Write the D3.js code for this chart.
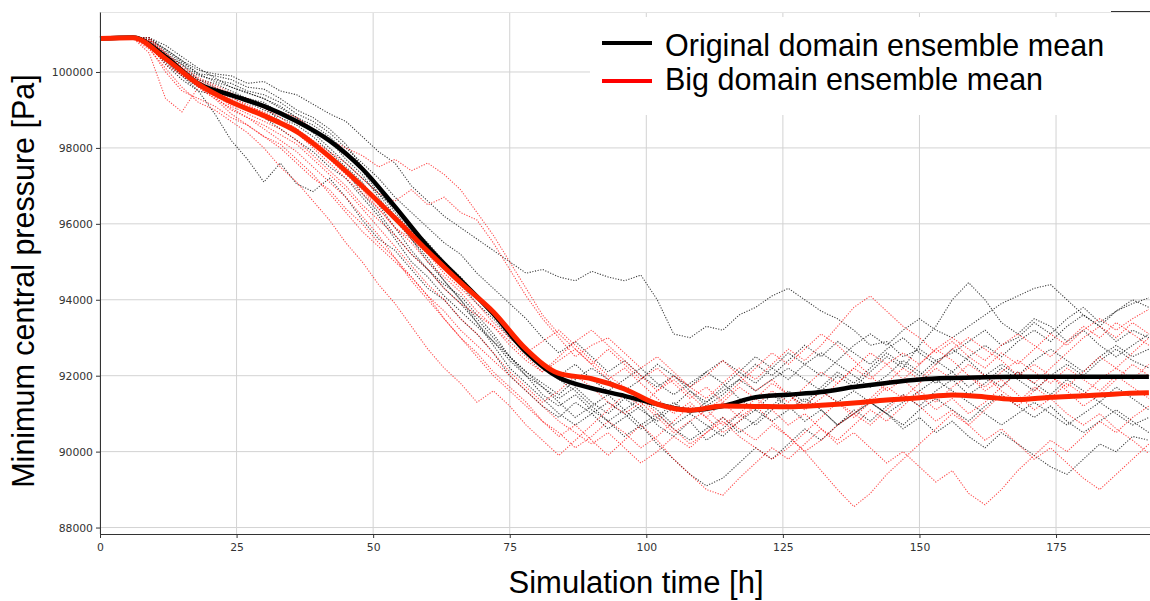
<!DOCTYPE html>
<html>
<head>
<meta charset="utf-8">
<script src="https://cdn.jsdelivr.net/npm/d3@7"></script>
<style>
body { margin: 0; background: #fff; }
</style>
</head>
<body>
<div id="vis"></div>
<script>
// time steps of the ensemble members [h]
const hours = [0,3,6,9,12,15,18,21,24,27,30,33,36,
  39,42,45,48,51,54,57,60,63,66,69,72,75,
  78,81,84,87,90,93,96,99,102,105,108,111,114,
  117,120,123,126,129,132,135,138,141,144,147,150,153,
  156,159,162,165,168,171,174,177,180,183,186,189,192]

// time steps of the ensemble means [h]
const meanHours = [0,6,12,18,24,30,36,42,48,54,60,66,72,78,84,90,96,102,108,114,120,126,132,138,144,150,156,162,168,174,180,186,192]

const originalMean = [100880,100910,100400,99700,99390,99100,98700,98190,97450,96450,95400,94520,93630,92620,91950,91670,91470,91250,91090,91200,91430,91500,91570,91700,91810,91900,91940,91960,91970,91970,91970,91970,91970]
const bigMean = [100880,100900,100350,99680,99210,98850,98430,97770,96990,96150,95280,94450,93680,92700,92060,91920,91650,91250,91090,91200,91190,91180,91220,91280,91360,91420,91490,91440,91370,91430,91470,91520,91550]

// original domain members [Pa]
const originalMembers = [
  [100880,100920,100900,100850,100600,100300,100050,99950,99900,99700,99750,99500,99400,
   99150,98900,98700,98300,97900,97600,97000,96600,96200,95900,95600,95300,95000,
   94700,94800,94600,94500,94750,94600,94500,94650,94000,93100,93000,93300,93200,
   93600,93800,94100,94300,94000,93700,93500,93200,92800,92900,92500,92700,92400,
   92600,92900,93200,92800,93000,93400,93100,93500,93800,93400,93700,93900,94050],
  [100880,100920,100900,100700,100200,99800,99500,98900,98200,97700,97100,97600,97050,
   96850,97200,96700,96100,95600,95300,94800,94300,94000,93500,93100,92600,92000,
   91600,91200,90900,91300,91000,90600,90900,91200,90700,90400,90800,90300,90600,
   91000,90700,91100,91500,91200,91600,92000,91700,92100,92500,92200,92800,93300,
   94000,94450,94000,93400,93100,93500,93300,92900,93200,92800,92500,92800,93100],
  [100880,100920,100900,100900,100700,100400,100100,99850,99600,99450,99300,99100,98800,
   98500,98200,97700,97300,96700,96100,95600,95100,94500,94000,93500,93000,92500,
   92100,91700,91400,91700,91300,91000,91400,91100,90800,91200,91600,91300,91700,
   92100,91800,92200,92600,92300,92000,92400,92800,93100,92800,93200,93500,93200,
   93000,93300,93600,93900,94100,94300,94400,94000,93600,93300,92900,93200,93000],
  [100880,100920,100900,100800,100500,100200,99800,99700,99500,99300,99100,98700,98500,
   98100,97800,97400,96800,96300,95700,95200,94800,94400,94100,93600,93100,92500,
   92100,91800,91500,91900,92200,91900,91600,91900,92300,92000,91700,92100,91800,
   91400,91100,91500,91200,90800,91100,90700,91000,91300,91000,90600,90900,90500,
   90800,90400,90100,90500,90200,89900,89600,89400,89800,90200,90000,90400,90300],
  [100880,100920,100900,100750,100300,99900,99500,99400,99200,99000,98800,98500,98200,
   97900,97500,97200,96700,96200,95600,95000,94600,94100,93700,93300,92900,92500,
   92000,91700,91300,90900,91200,90800,90400,90700,90200,89800,89400,89100,89300,
   89700,90100,89800,90200,90600,90300,90700,91100,90800,91200,91500,91200,91600,
   91900,91500,91800,92200,91900,91600,92000,92300,92000,92400,92700,92400,92200],
  [100880,100920,100900,100850,100450,100200,99900,99800,99700,99500,99400,99200,98900,
   98700,98400,98000,97600,97200,96700,96300,95900,95500,95200,94700,94300,93900,
   93500,93000,92600,92900,92500,92100,92400,92000,91700,92000,91600,91200,91500,
   91900,92300,92000,92400,92800,92500,92900,92600,92300,92700,93000,92600,92300,
   92700,92400,92000,91700,92100,91800,91500,91900,91600,91300,91700,91400,91100],
  [100880,100920,100900,100900,100600,100300,99950,99900,99800,99600,99550,99300,99000,
   98800,98500,98100,97500,96900,96300,95800,95300,94900,94400,93900,93500,93000,
   92600,92200,91900,91600,91200,91500,91100,90700,91000,90600,90300,90600,90900,
   90500,90800,91200,91600,91300,91700,92100,91800,92200,92600,92300,92000,92400,
   92100,91700,92000,92300,92000,92400,92700,92400,92100,92500,92800,92500,92700],
  [100880,100920,100900,100700,100250,99900,99600,99500,99400,99200,99000,98800,98600,
   98300,97900,97500,97100,96500,95900,95300,94800,94300,93900,93400,92800,92200,
   91800,91400,91000,90700,91000,91300,91000,90600,90900,91300,91000,90700,90400,
   90800,91100,90800,91100,91400,91100,90700,91000,91300,91000,90700,91100,91400,
   91100,90800,91200,91500,91200,90900,91200,90800,90500,90800,91100,90800,90500],
  [100880,100920,100900,100800,100400,100100,99800,99600,99400,99300,99200,98900,98700,
   98400,98000,97600,97200,96800,96400,95900,95500,95000,94600,94100,93600,93100,
   92600,92300,92000,92300,91900,91600,91900,92200,91800,91500,91800,92100,92400,
   92100,92500,92200,91900,92300,92600,92300,92000,91700,92000,92400,92100,91800,
   92100,92500,92800,92500,92900,93200,92900,93300,93600,93300,93700,94000,93800],
  [100880,100920,100900,100900,100550,100250,99950,99750,99600,99450,99300,99050,98800,
   98600,98300,97900,97400,96800,96200,95600,95000,94500,94000,93400,92900,92400,
   92000,91500,91200,91500,91100,90800,91100,91400,91100,90700,91000,91300,91600,
   91900,91600,91900,92200,91900,91600,91300,91600,91300,91000,91300,91600,91900,
   91600,91300,91000,90700,91000,91300,91000,90700,91000,91300,91000,90700,90900]
]

// big domain members [Pa]
const bigMembers = [
  [100880,100920,100900,100500,99300,98950,99600,99300,98900,98600,98300,98000,97600,
   97200,96900,96400,96000,95500,95100,94600,94100,93500,93000,92600,92100,91700,
   91300,90800,90400,90700,90300,89900,90300,90700,90300,89800,89400,89000,88850,
   89300,89700,90100,89800,90200,90600,90300,90700,91100,90800,91200,91600,91300,
   91700,92000,91700,92100,92400,92100,91800,92200,91900,91600,92000,91700,91400],
  [100880,100920,100900,100600,100100,99600,99200,99000,98700,98400,98000,97500,97100,
   96600,96100,95500,95000,94400,93900,93300,92700,92200,91800,91300,91600,91200,
   90700,90300,89900,90300,90700,91100,91500,91200,91600,92000,91700,91400,91800,
   92200,91900,92300,92700,92400,92800,93300,93800,94100,93700,93300,93000,92600,
   92900,92500,92200,92600,92300,92700,93100,92800,93200,93500,93200,93500,93750],
  [100880,100920,100900,100900,100500,100100,99800,99600,99400,99300,99100,98950,98800,
   98500,98200,98000,97800,97500,97700,97400,97600,97300,96900,96300,95700,95000,
   94300,93600,93100,92700,92300,92700,92300,91900,92200,91800,91400,91700,91300,
   90900,91200,90800,90400,90000,89500,89000,88550,88900,89400,89800,90200,90600,
   91000,90700,91100,91500,91200,91600,92000,91700,92100,92500,92200,92600,93000],
  [100880,100920,100900,100800,100400,100000,99700,99500,99300,99150,98900,98700,98500,
   98200,97900,97600,97200,96800,96600,96900,96500,96700,96300,96100,95500,94800,
   94100,93500,93000,92500,92800,93000,92600,92200,92500,92100,91700,92000,92400,
   92000,91600,91900,91500,91100,91400,91800,92200,91900,92300,92600,92300,92700,
   92400,92000,91600,91900,91500,91100,91400,91000,90700,91000,90600,90300,89950],
  [100880,100920,100900,100750,100300,99950,99600,99300,99050,98800,98600,98350,98100,
   97700,97300,96900,96400,95900,95400,94900,94400,94000,93500,93100,92600,92100,
   91700,91300,91600,92000,91700,91300,91000,91300,90900,90500,90800,91100,90700,
   91000,91400,91100,90700,91000,90600,90200,90500,90100,89700,90000,89600,89200,
   89500,88900,88600,89000,89500,89900,90300,90000,90400,90800,90500,90900,91200],
  [100880,100920,100900,100850,100450,100050,99700,99400,99100,98900,98700,98500,98200,
   97800,97400,97000,96500,96100,95700,95200,94800,94300,93900,93600,93300,92900,
   92500,92100,92400,92700,92300,91900,92200,91800,91400,91000,91300,90900,90500,
   90800,91200,91600,91300,91700,92100,91800,92200,92600,92300,91900,92300,92700,
   93000,92700,92400,92800,93100,92800,92500,92900,93300,93000,93400,93100,92800],
  [100880,100920,100900,100700,100200,99900,99650,99350,99000,98800,98500,98200,97900,
   97500,97100,96700,96200,95700,95100,94500,94000,93500,93000,92500,92000,91600,
   91200,90800,90500,90100,90400,90800,90500,90100,90400,90800,91200,90900,91300,
   91700,91400,91800,91500,91200,91600,91300,90900,91300,91700,91400,91800,92200,
   91900,92300,92000,91600,91300,91700,91400,91800,91500,91900,92200,91900,92300],
  [100880,100920,100900,100800,100350,100000,99750,99550,99350,99100,98950,98700,98400,
   98000,97600,97200,96800,96400,95900,95500,95000,94600,94200,93700,93300,92800,
   92400,92100,92500,92900,93200,92800,92400,92000,91600,91900,91500,91100,91400,
   91800,92200,92600,92300,92700,93100,92800,92400,92000,91600,91900,91500,91100,
   91400,91000,91300,91700,92100,91800,92200,92600,93000,93300,93000,93400,93100],
  [100880,100920,100900,100650,100000,99500,99300,99100,98800,98600,98300,98100,97700,
   97300,96800,96300,95800,95400,95000,94600,94100,93700,93200,92800,92400,92000,
   91600,91200,90800,90500,90200,90500,90100,89700,90000,90400,90100,90500,90900,
   90600,90300,90700,90400,90000,90300,90700,91000,90700,91100,91500,91200,90800,
   91100,90700,90300,90600,90200,89800,90100,89700,89300,89000,89400,89800,90200],
  [100880,100920,100900,100850,100500,100150,99850,99650,99450,99250,99050,98800,98500,
   98100,97700,97300,96900,96400,95900,95600,95200,94700,94300,93900,93400,93000,
   92600,92900,93200,92800,92400,92000,91700,91400,91000,90600,90200,90500,90800,
   90400,90100,89800,90100,90500,90900,91300,91000,91400,91800,92200,91900,92300,
   92700,93000,92700,92400,92000,92300,92000,91600,91200,91500,91900,92300,92000]
]

const yTicks = [88000, 90000, 92000, 94000, 96000, 98000, 100000]
const xTicks = [0, 25, 50, 75, 100, 125, 150, 175]
const legendLabels = ['Original domain ensemble mean', 'Big domain ensemble mean']
const legendColors = ['#000000', '#ff0000']

const margin = {left: 100, top: 12, right: 0, bottom: 67}
const width = 1150
const height = 601
const plotBottom = height - margin.bottom

let svg = d3.select('#vis')
    .append('svg')
    .attr('width', width)
    .attr('height', height)

let x = d3.scaleLinear([0, 192.2], [margin.left, width - margin.right])
let y = d3.scaleLinear([87830, 101580], [plotBottom, margin.top])

// grid lines
svg.append('g')
    .selectAll('line')
    .data(yTicks)
    .join('line')
        .attr('x1', margin.left)
        .attr('x2', width)
        .attr('y1', d => y(d))
        .attr('y2', d => y(d))
        .attr('stroke', '#d3d3d3')

svg.append('g')
    .selectAll('line')
    .data(xTicks)
    .join('line')
        .attr('x1', d => x(d))
        .attr('x2', d => x(d))
        .attr('y1', margin.top)
        .attr('y2', plotBottom)
        .attr('stroke', '#d3d3d3')

svg.append('line')
    .attr('x1', margin.left).attr('x2', width)
    .attr('y1', margin.top + 0.5).attr('y2', margin.top + 0.5)
    .attr('stroke', '#e4e4e4')

svg.append('line')
    .attr('x1', 1111).attr('x2', width)
    .attr('y1', 11.5).attr('y2', 11.5)
    .attr('stroke', '#333')

// ensemble members
let memberLine = d3.line()
    .x((d, i) => x(hours[i]))
    .y(d => y(d))

svg.append('g')
    .selectAll('path')
    .data(originalMembers)
    .join('path')
        .attr('d', memberLine)
        .attr('fill', 'none')
        .attr('stroke', '#000')
        .attr('stroke-opacity', 0.75)
        .attr('stroke-width', 1.1)
        .attr('stroke-dasharray', '1.2,1.5')

svg.append('g')
    .selectAll('path')
    .data(bigMembers)
    .join('path')
        .attr('d', memberLine)
        .attr('fill', 'none')
        .attr('stroke', '#ff0000')
        .attr('stroke-opacity', 0.7)
        .attr('stroke-width', 1.1)
        .attr('stroke-dasharray', '1.2,1.5')

// ensemble means
let meanLine = d3.line()
    .x((d, i) => x(meanHours[i]))
    .y(d => y(d))
    .curve(d3.curveMonotoneX)

svg.append('path')
    .datum(originalMean)
    .attr('d', meanLine)
    .attr('fill', 'none')
    .attr('stroke', '#000')
    .attr('stroke-width', 4.5)

svg.append('path')
    .datum(bigMean)
    .attr('d', meanLine)
    .attr('fill', 'none')
    .attr('stroke', '#ff2400')
    .attr('stroke-width', 5)

// axes
let xAxis = d3.axisBottom(x)
    .tickValues(xTicks)
    .tickSize(4)
    .tickSizeOuter(0)
    .tickPadding(5)

let yAxis = d3.axisLeft(y)
    .tickValues(yTicks)
    .tickFormat(d3.format('d'))
    .tickSize(4)
    .tickSizeOuter(0)
    .tickPadding(3)

svg.append('g')
    .attr('transform', `translate(0, ${plotBottom})`)
    .attr('color', '#333')
    .call(xAxis)
    .call(g => g.selectAll('text')
        .attr('font-family', 'DejaVu Sans, sans-serif')
        .attr('font-size', 10.8)
        .attr('fill', '#333'))

svg.append('g')
    .attr('transform', `translate(${margin.left}, 0)`)
    .attr('color', '#333')
    .call(yAxis)
    .call(g => g.selectAll('text')
        .attr('font-family', 'DejaVu Sans, sans-serif')
        .attr('font-size', 10.8)
        .attr('fill', '#333'))

// axis titles
svg.append('text')
    .text('Simulation time [h]')
    .attr('x', 636)
    .attr('y', 593)
    .attr('text-anchor', 'middle')
    .attr('font-family', 'Liberation Sans, Arial, sans-serif')
    .attr('font-size', 31)

svg.append('text')
    .text('Minimum central pressure [Pa]')
    .attr('transform', 'translate(34, 281) rotate(-90)')
    .attr('text-anchor', 'middle')
    .attr('font-family', 'Liberation Sans, Arial, sans-serif')
    .attr('font-size', 30.5)

// legend
let legend = svg.append('g')

legend.append('rect')
    .attr('x', 590)
    .attr('y', 17)
    .attr('width', 560)
    .attr('height', 98)
    .attr('fill', '#fff')

legend.selectAll('line')
    .data(legendLabels)
    .join('line')
        .attr('x1', 602)
        .attr('x2', 652)
        .attr('y1', (d, i) => 43 + i * 38)
        .attr('y2', (d, i) => 43 + i * 38)
        .attr('stroke', (d, i) => legendColors[i])
        .attr('stroke-width', 4)

legend.selectAll('text')
    .data(legendLabels)
    .join('text')
        .text(d => d)
        .attr('x', 665)
        .attr('y', (d, i) => 56 + i * 34)
        .attr('font-family', 'Liberation Sans, Arial, sans-serif')
        .attr('font-size', 30.5)
</script>
</body>
</html>
